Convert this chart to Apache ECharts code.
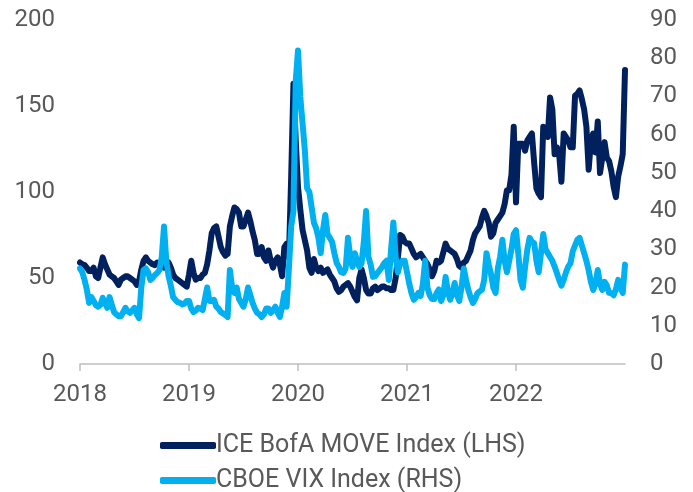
<!DOCTYPE html>
<html>
<head>
<meta charset="utf-8">
<script src="https://cdn.jsdelivr.net/npm/echarts@6/dist/echarts.min.js"></script>
<style>
  html, body { margin: 0; padding: 0; background: #fff; }
  #chart { width: 693px; height: 492px; }
</style>
</head>
<body>
<div id="chart"></div>
<script>
// x positions: 48 readings per year, first reading at the "2018" tick
const startYear = 2018;
const pointsPerYear = 48;
const yearTicks = [2018, 2019, 2020, 2021, 2022];

// ICE BofA MOVE Index (left axis)
const moveValues = [
  59, 58, 57.5, 56, 54, 54, 56, 51, 50, 56, 62, 58, 55, 52, 51, 50, 48, 46, 49, 50, 51, 51, 50, 49,
  48, 46, 48, 55, 60, 62, 60, 59, 58, 57.5, 59, 58, 57, 56, 58, 59, 56, 52, 50, 49, 48, 47, 46, 45,
  52, 60, 53, 49, 50, 50, 52, 53, 58, 66, 76, 79, 80, 74, 68, 65, 63, 64, 80, 86, 91, 90, 88, 80,
  80, 84, 88, 83, 77, 72, 64, 64, 68, 62, 60, 66, 60, 56, 60, 62, 58, 51, 68, 70, 62, 109, 163, 130,
  103, 90, 78, 72, 66, 56, 53, 61, 56, 54, 56, 53, 54, 55, 52, 50, 48, 44, 42, 43, 45, 46, 47, 45,
  42, 39, 37, 50, 55, 50, 43, 41, 41, 44, 45, 43, 44, 45, 45, 44, 44, 43, 43, 50, 62, 75, 74, 71,
  70, 70, 67, 64, 62, 63, 64, 62, 60, 58, 55, 51, 54, 60, 59, 60, 65, 70, 67, 66, 65, 64, 61, 57,
  56, 59, 60, 63, 66, 72, 76, 78, 80, 85, 89, 86, 82, 74, 76, 82, 84, 86, 88, 93, 101, 101, 110, 138,
  94, 128, 128, 128, 124, 130, 132, 134, 117, 102, 99, 97, 138, 134, 132, 155, 148, 122, 126, 122, 106, 134, 132, 130,
  126, 126, 156, 157, 159, 154, 148, 138, 113, 130, 134, 123, 141, 111, 120, 129, 120, 118, 112, 103, 97, 109, 115, 122,
  171
];

// CBOE VIX Index (right axis)
const vixValues = [
  25, 24, 22, 19.5, 16, 17.5, 16.5, 15.4, 15, 15.5, 17.3, 16, 14.7, 17.5, 15.5, 13.6, 13, 12.5, 12.5, 13.5, 14.7, 13.8, 13.4, 14,
  14.7, 13, 12, 20, 24.6, 25, 24, 22, 22.5, 23.3, 23.8, 24.6, 28, 36, 27, 23, 20.5, 17.5, 16.8, 16.2, 16, 15.6, 15.8, 16.5,
  16.5, 14.5, 13.6, 14, 14.7, 14.5, 14.1, 17, 20, 16.5, 16.5, 16.8, 15, 14.5, 13.6, 13.2, 12.8, 12.3, 24.6, 20, 18.6, 20, 17, 16,
  15, 17, 20, 18, 16, 14.5, 13.4, 13, 12.3, 13, 14.5, 14.5, 13.4, 14, 15, 13.5, 12.3, 15, 18.6, 15, 25, 36, 40, 74,
  82, 70, 63, 56, 46, 45, 41, 37, 35.5, 33, 29, 35, 39, 34, 33, 32, 29, 26.5, 25.4, 24, 23.8, 25, 33, 28,
  25.4, 29, 27, 25.4, 26.4, 32, 40, 28, 26, 22.8, 23, 23.8, 24.6, 25.4, 26.4, 27, 22, 30, 37, 28, 24, 26.4, 27, 27,
  24, 21, 18.5, 16.8, 17.5, 18.6, 17.8, 21, 27, 20, 18, 17, 17, 18.5, 19.5, 16.5, 18, 22.8, 19, 16.8, 18.5, 21.2, 18, 16.5,
  20, 25, 22, 19.4, 17.5, 16, 17, 18.5, 19, 19.4, 22, 29, 26, 23.5, 20, 18.6, 25, 28, 32.5, 27, 24, 27, 30, 34,
  35, 29, 22, 20, 25.4, 30, 33, 32, 31.6, 27, 24, 29, 34, 30, 29, 28, 27, 25.5, 23.8, 22, 20.5, 22, 24, 25.5,
  26.4, 29.5, 31, 32.5, 33, 31, 29, 27, 24.5, 21.5, 19.4, 21, 24.6, 21, 19.4, 21.5, 20.5, 18.6, 18.5, 18, 19.5, 22, 20, 18.6,
  26
];

const toPoints = vals => vals.map((v, i) => [startYear + i / pointsPerYear, v]);

const textColor = '#595959';
const fontFamily = 'Roboto';

const chart = echarts.init(document.getElementById('chart'), null, { renderer: 'canvas' });

chart.setOption({
  animation: false,
  backgroundColor: '#ffffff',
  grid: { left: 80, right: 68, top: 20, bottom: 128 },
  legend: {
    orient: 'vertical',
    left: 155,
    top: 428,
    height: 64,
    itemWidth: 56,
    itemHeight: 7,
    itemGap: 10,
    icon: 'roundRect',
    textStyle: { color: textColor, fontFamily: fontFamily, fontSize: 25, lineHeight: 24, padding: [0, 0, 0, -5] },
    data: ['ICE BofA MOVE Index (LHS)', 'CBOE VIX Index (RHS)']
  },
  xAxis: {
    type: 'value',
    min: 2018,
    max: 2023,
    interval: 1,
    splitLine: { show: false },
    axisLine: { show: true, lineStyle: { color: '#bfbfbf', width: 1.5 } },
    axisTick: { show: true, length: 7, customValues: yearTicks, lineStyle: { color: '#bfbfbf', width: 1.5 } },
    axisLabel: {
      customValues: yearTicks,
      formatter: v => String(v),
      color: textColor, fontFamily: fontFamily, fontSize: 24, margin: 19
    }
  },
  yAxis: [
    {
      type: 'value', min: 0, max: 200, interval: 50,
      splitLine: { show: false }, axisLine: { show: false }, axisTick: { show: false },
      axisLabel: { color: textColor, fontFamily: fontFamily, fontSize: 24, margin: 25 }
    },
    {
      type: 'value', min: 0, max: 90, interval: 10, position: 'right',
      splitLine: { show: false }, axisLine: { show: false }, axisTick: { show: false },
      axisLabel: { color: textColor, fontFamily: fontFamily, fontSize: 24, margin: 25 }
    }
  ],
  series: [
    {
      name: 'ICE BofA MOVE Index (LHS)',
      type: 'line',
      yAxisIndex: 0,
      data: toPoints(moveValues),
      showSymbol: false,
      symbol: 'none',
      itemStyle: { color: '#00215E' },
      lineStyle: { color: '#00215E', width: 6, cap: 'round', join: 'round' }
    },
    {
      name: 'CBOE VIX Index (RHS)',
      type: 'line',
      yAxisIndex: 1,
      data: toPoints(vixValues),
      showSymbol: false,
      symbol: 'none',
      itemStyle: { color: '#00B0F0' },
      lineStyle: { color: '#00B0F0', width: 6, cap: 'round', join: 'round' }
    }
  ]
});
</script>
</body>
</html>
